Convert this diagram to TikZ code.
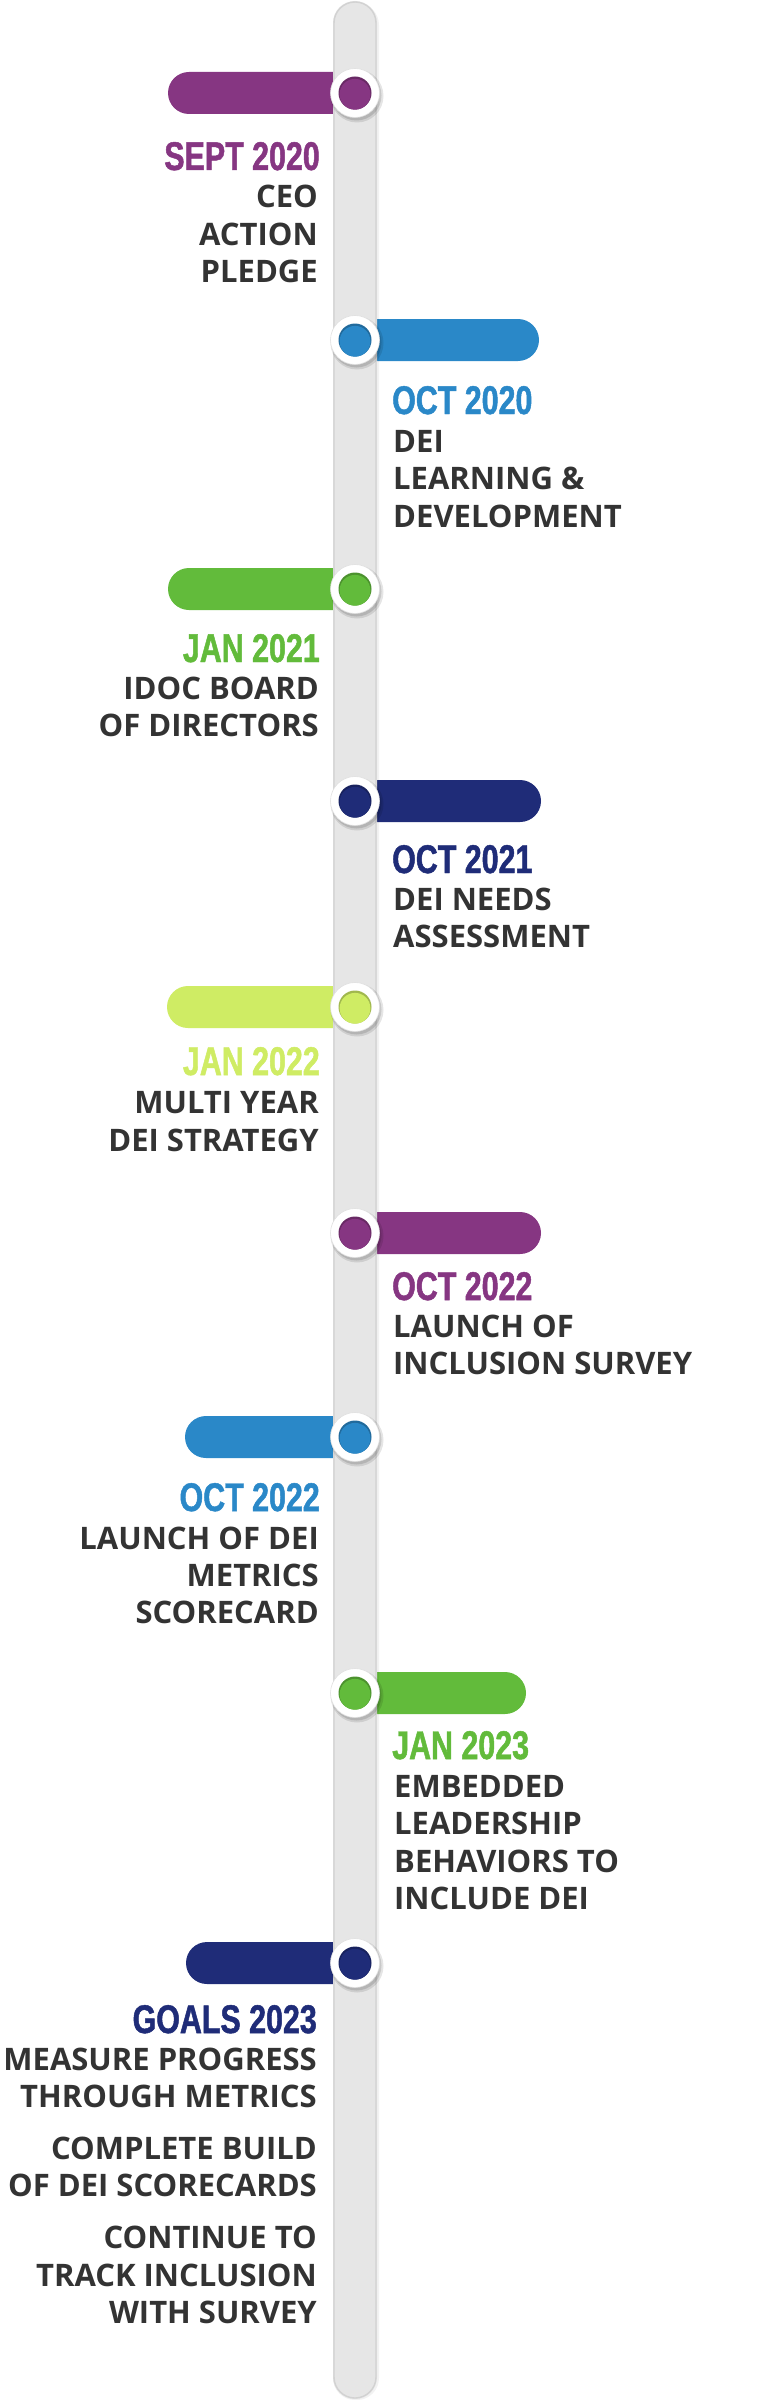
\documentclass[tikz,border=0pt]{standalone}
\usepackage{fontspec}
\newfontfamily\datefont[FakeStretch=0.76,FakeBold=1.2]{Liberation Sans}
\newfontfamily\bodyfont{Open Sans}
\definecolor{cpurple}{HTML}{863682}
\definecolor{cblue}{HTML}{2A88C8}
\definecolor{cgreen}{HTML}{62BB3B}
\definecolor{cnavy}{HTML}{1F2C78}
\definecolor{clime}{HTML}{CFEC64}
\definecolor{ctext}{HTML}{333333}
\definecolor{crail}{HTML}{E6E6E6}
\definecolor{credge}{HTML}{D2D2D2}
\tikzset{
  datel/.style={anchor=base east, inner sep=0pt, text=#1, font=\datefont\bfseries\fontsize{40}{40}\selectfont},
  dater/.style={anchor=base west, inner sep=0pt, text=#1, font=\datefont\bfseries\fontsize{40}{40}\selectfont},
  bodyl/.style={anchor=base east, inner sep=0pt, text=ctext, font=\bodyfont\bfseries\fontsize{31}{31}\selectfont},
  bodyr/.style={anchor=base west, inner sep=0pt, text=ctext, font=\bodyfont\bfseries\fontsize{31}{31}\selectfont},
  ring/.style={circle, minimum size=49pt, inner sep=0pt, fill=white, draw=black!12, line width=0.6pt},
  dotin/.style={circle, minimum size=33pt, inner sep=0pt, fill=#1!78!black},
  barshape/.style={rounded corners=21pt, fill=#1},
}
\newcommand{\tlmark}[3]{% name, y, color
  \fill[black, opacity=0.10] (357,#2+3) circle[radius=26.5pt];
  \fill[black, opacity=0.12] (356.5,#2+2.5) circle[radius=25pt];
  \node[ring] (#1) at (355,#2) {};
  \node[dotin=#3] (#1i) at (#1.center) {};
  \fill[#3] ([yshift=-1.3pt]#1i.center) circle[radius=15.4pt];
}
\begin{document}
\begin{tikzpicture}[x=1pt,y=-1pt]
\useasboundingbox (0,0) rectangle (756,2400);
\fill[white] (0,0) rectangle (756,2400);
% bars
\fill[barshape=cpurple] (168,72) rectangle (356,114);
\fill[barshape=cblue] (354,319) rectangle (539,361);
\fill[barshape=cgreen] (168,568) rectangle (356,610);
\fill[barshape=cnavy] (354,780) rectangle (541,822);
\fill[barshape=clime] (167,986) rectangle (356,1028);
\fill[barshape=cpurple] (354,1212) rectangle (541,1254);
\fill[barshape=cblue] (185,1416) rectangle (356,1458);
\fill[barshape=cgreen] (354,1672) rectangle (526,1714);
\fill[barshape=cnavy] (186,1942) rectangle (356,1984);
% rail
\fill[black, opacity=0.05, rounded corners=22pt] (333,3) rectangle (379,2400);
\fill[crail, rounded corners=22pt] (333,1) rectangle (377,2399);
\draw[credge, line width=1.4pt, rounded corners=21pt] (334,2) rectangle (376,2398);
% markers
\tlmark{m1}{93}{cpurple}
\tlmark{m2}{340}{cblue}
\tlmark{m3}{589}{cgreen}
\tlmark{m4}{801}{cnavy}
\tlmark{m5}{1007}{clime}
\tlmark{m6}{1233}{cpurple}
\tlmark{m7}{1437}{cblue}
\tlmark{m8}{1693}{cgreen}
\tlmark{m9}{1963}{cnavy}
% texts event 1
\node[datel=cpurple] (d1) at (320,170) {SEPT 2020};
\node[bodyl] (t1a) at (318,208) {CEO};
\node[bodyl] (t1b) at (318,246) {ACTION};
\node[bodyl] (t1c) at (318,283) {PLEDGE};
% event 2
\node[dater=cblue] (d2) at (392,414) {OCT 2020};
\node[bodyr] (t2a) at (393,452) {DEI};
\node[bodyr] (t2b) at (393,489) {LEARNING \&};
\node[bodyr] (t2c) at (393,527) {DEVELOPMENT};
% event 3
\node[datel=cgreen] (d3) at (320,662) {JAN 2021};
\node[bodyl] (t3a) at (319,699) {IDOC BOARD};
\node[bodyl] (t3b) at (319,736) {OF DIRECTORS};
% event 4
\node[dater=cnavy] (d4) at (392,873) {OCT 2021};
\node[bodyr] (t4a) at (393,910) {DEI NEEDS};
\node[bodyr] (t4b) at (393,947) {ASSESSMENT};
% event 5
\node[datel=clime] (d5) at (320,1075) {JAN 2022};
\node[bodyl] (t5a) at (319,1113) {MULTI YEAR};
\node[bodyl] (t5b) at (319,1151) {DEI STRATEGY};
% event 6
\node[dater=cpurple] (d6) at (392,1300) {OCT 2022};
\node[bodyr] (t6a) at (393,1337) {LAUNCH OF};
\node[bodyr] (t6b) at (393,1374) {INCLUSION SURVEY};
% event 7
\node[datel=cblue] (d7) at (320,1511) {OCT 2022};
\node[bodyl] (t7a) at (319,1549) {LAUNCH OF DEI};
\node[bodyl] (t7b) at (319,1586) {METRICS};
\node[bodyl] (t7c) at (319,1623) {SCORECARD};
% event 8
\node[dater=cgreen] (d8) at (392,1759) {JAN 2023};
\node[bodyr] (t8a) at (394,1797) {EMBEDDED};
\node[bodyr] (t8b) at (394,1834) {LEADERSHIP};
\node[bodyr] (t8c) at (394,1872) {BEHAVIORS TO};
\node[bodyr] (t8d) at (394,1909) {INCLUDE DEI};
% event 9
\node[datel=cnavy] (d9) at (317,2033) {GOALS 2023};
\node[bodyl] (t9a) at (317,2070) {MEASURE PROGRESS};
\node[bodyl] (t9b) at (317,2107) {THROUGH METRICS};
\node[bodyl] (t9c) at (317,2159) {COMPLETE BUILD};
\node[bodyl] (t9d) at (317,2196) {OF DEI SCORECARDS};
\node[bodyl] (t9e) at (317,2248) {CONTINUE TO};
\node[bodyl] (t9f) at (317,2286) {TRACK INCLUSION};
\node[bodyl] (t9g) at (317,2323) {WITH SURVEY};
\end{tikzpicture}
\end{document}
